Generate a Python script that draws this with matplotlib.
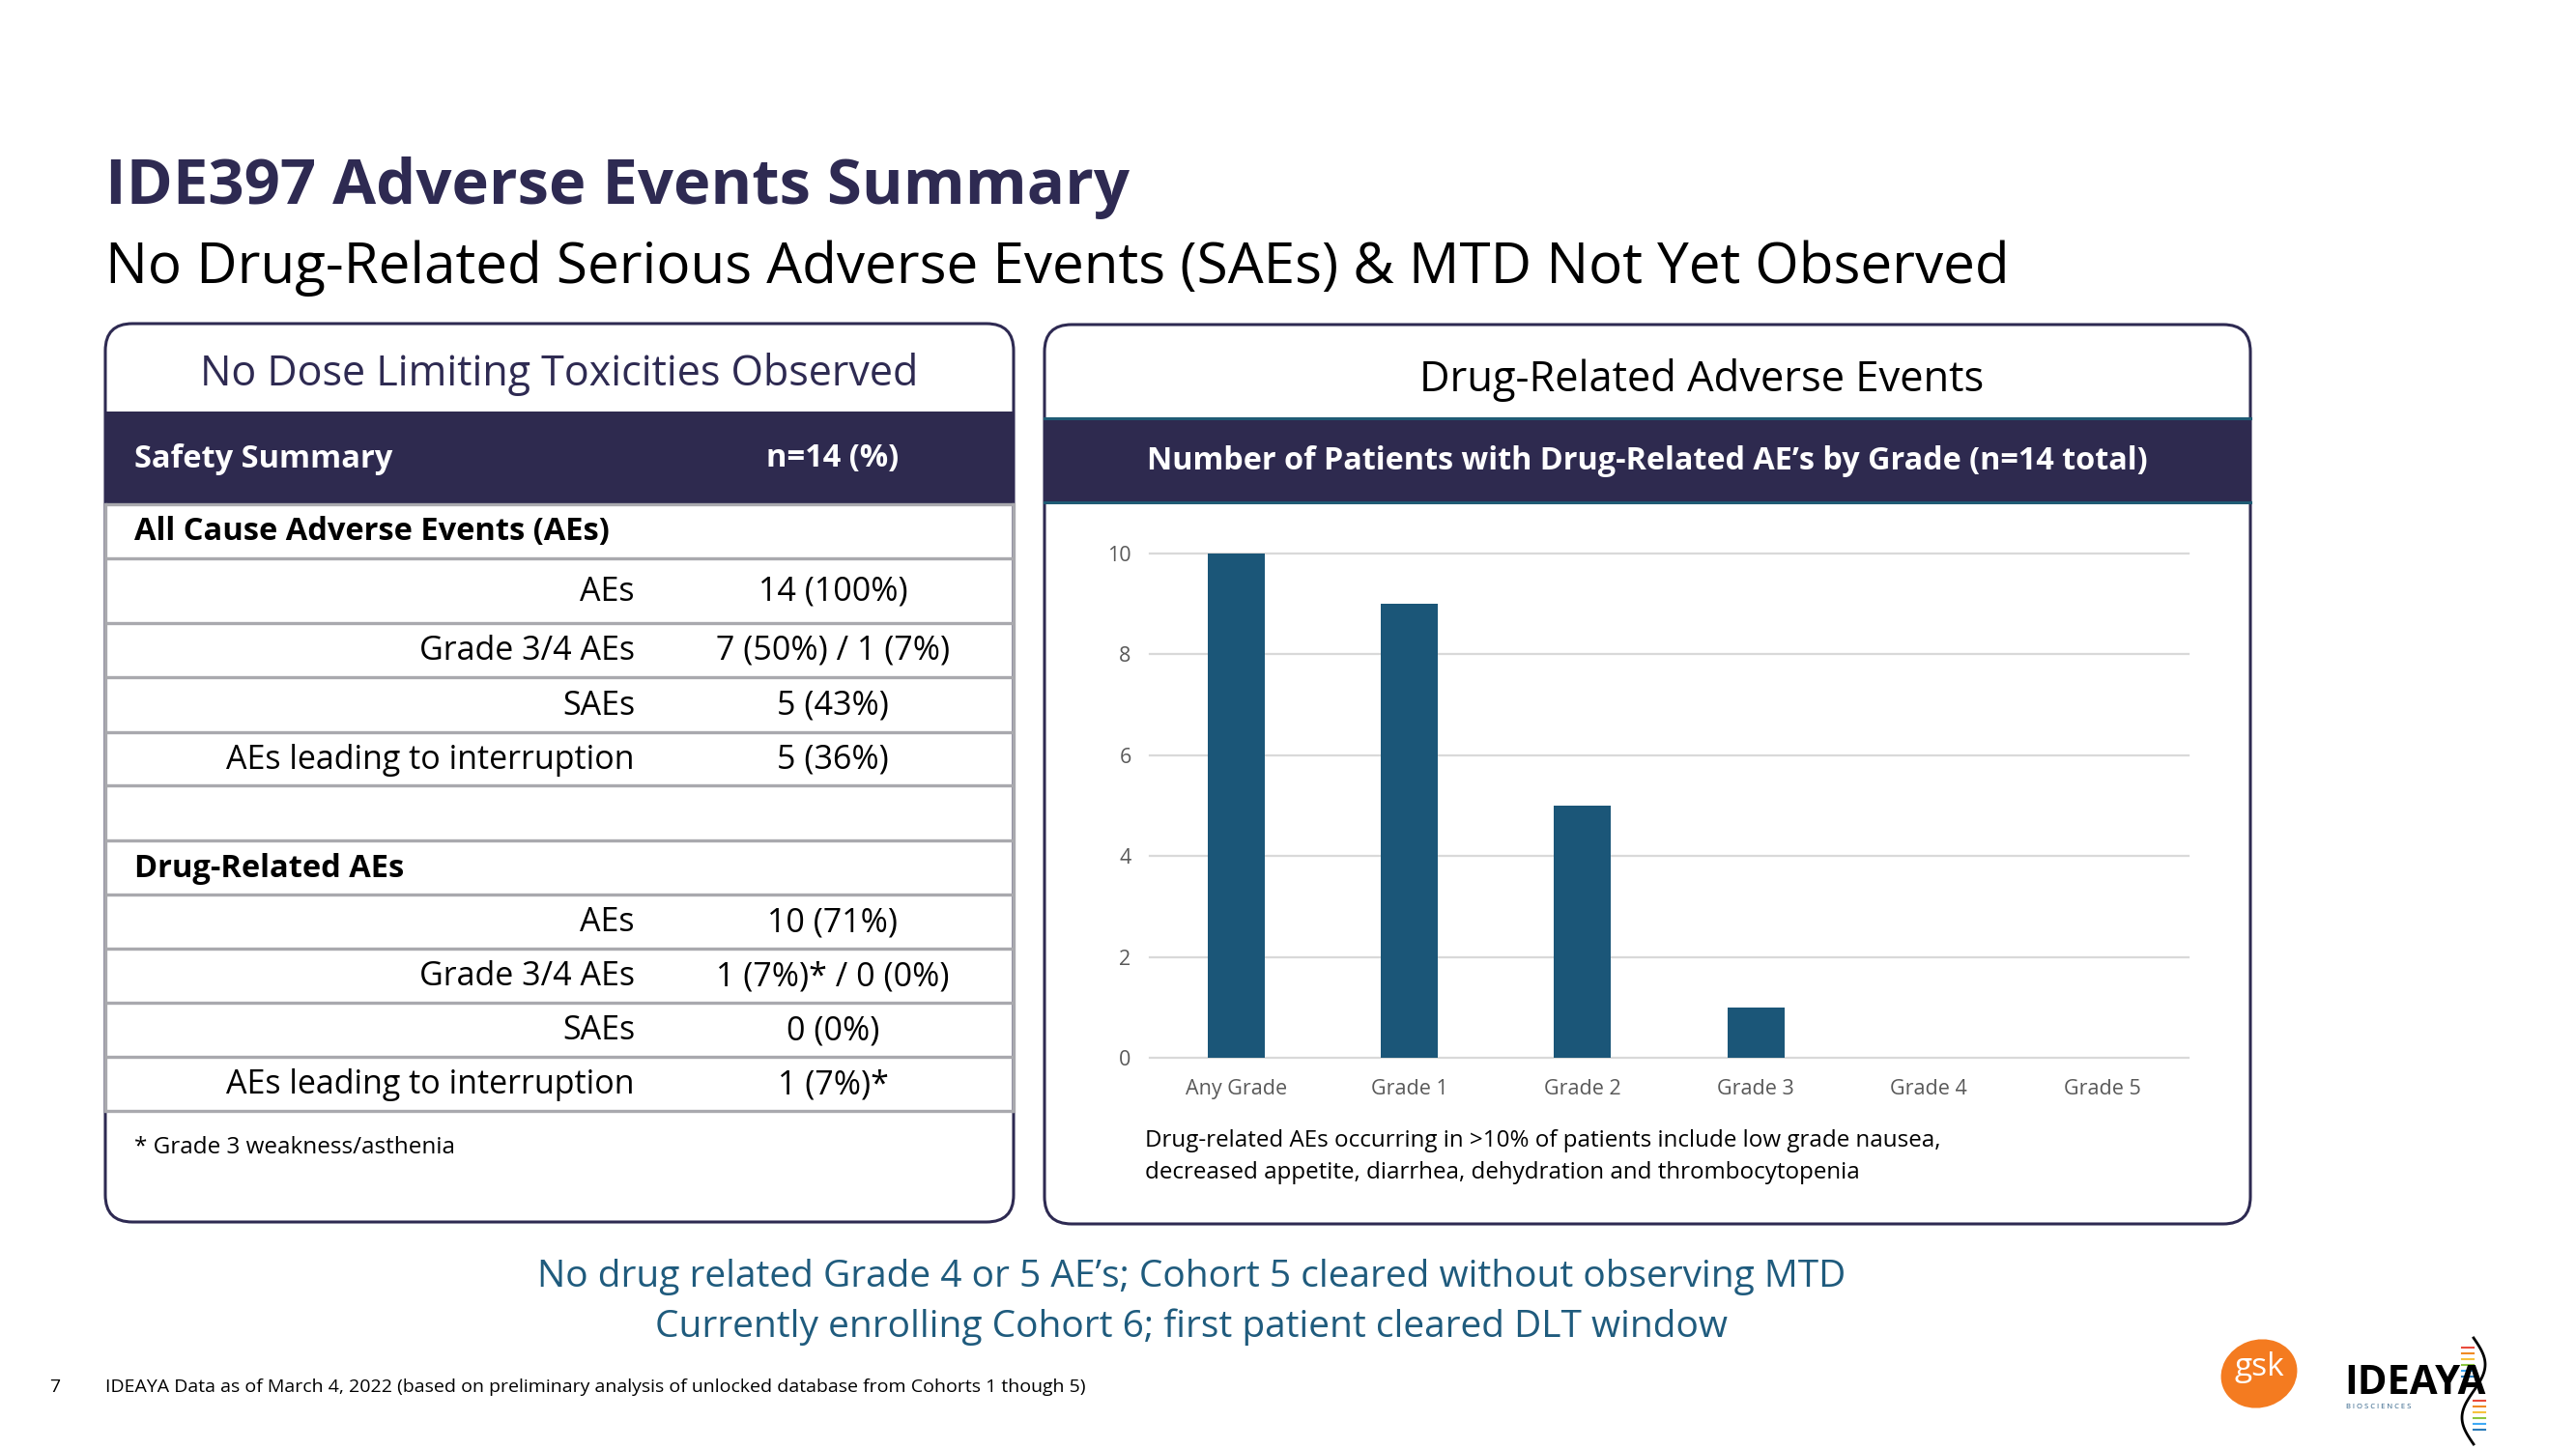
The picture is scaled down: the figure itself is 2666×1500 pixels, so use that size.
import numpy as np
import matplotlib
matplotlib.use("Agg")
import matplotlib.pyplot as plt
from matplotlib.patches import FancyBboxPatch, Rectangle, Ellipse

# ---- data ----
grades = ["Any Grade", "Grade 1", "Grade 2", "Grade 3", "Grade 4", "Grade 5"]
patients = [10, 9, 5, 1, 0, 0]
y_ticks = [0, 2, 4, 6, 8, 10]

all_cause_labels = ["AEs", "Grade 3/4 AEs", "SAEs", "AEs leading to interruption"]
all_cause_values = ["14 (100%)", "7 (50%) / 1 (7%)", "5 (43%)", "5 (36%)"]
drug_labels = ["AEs", "Grade 3/4 AEs", "SAEs", "AEs leading to interruption"]
drug_values = ["10 (71%)", "1 (7%)* / 0 (0%)", "0 (0%)", "1 (7%)*"]

# ---- colours ----
NAVY = "#2E2A52"
BAND = "#2E2A4F"
TEAL = "#1F5B74"
BAR = "#1B5678"
BLUE_TXT = "#1F5B7D"
GRID = "#D9D9D9"
ROWLINE = "#A9A9AE"
TICK = "#595959"

plt.rcParams["font.family"] = ["Open Sans", "DejaVu Sans"]

W, H = 2666, 1500
fig = plt.figure(figsize=(W / 100, H / 100), dpi=100)
fig.patch.set_facecolor("white")

# background axes in pixel coords (y down)
bg = fig.add_axes([0, 0, 1, 1])
bg.set_xlim(0, W)
bg.set_ylim(H, 0)
bg.axis("off")

# ---- titles ----
bg.text(109, 211, "IDE397 Adverse Events Summary", fontsize=47, fontweight="bold",
        color=NAVY, ha="left", va="baseline")
bg.text(109, 293, "No Drug-Related Serious Adverse Events (SAEs) & MTD Not Yet Observed",
        fontsize=42, color="black", ha="left", va="baseline")

# ---- left panel (table) ----
lx0, lx1, ly0, ly1 = 109, 1049, 335, 1265
bg.add_patch(FancyBboxPatch((lx0, ly0), lx1 - lx0, ly1 - ly0,
                            boxstyle="round,pad=0,rounding_size=28",
                            lw=2.2, edgecolor=NAVY, facecolor="white", zorder=1))
bg.text((lx0 + lx1) / 2, 387, "No Dose Limiting Toxicities Observed", fontsize=31,
        color=NAVY, ha="center", va="center", zorder=5)
bg.add_patch(Rectangle((lx0, 426), lx1 - lx0, 96, facecolor=BAND, edgecolor="none", zorder=3))
bg.text(139, 475, "Safety Summary", fontsize=23.5, fontweight="bold", color="white",
        ha="left", va="center", zorder=5)
bg.text(862, 475, "n=14 (%)", fontsize=23.5, fontweight="bold", color="white",
        ha="center", va="center", zorder=5)

row_edges = [522, 578, 645, 701, 758, 813, 870, 926, 982, 1038, 1094, 1150]
for y in row_edges:
    bg.plot([lx0, lx1], [y, y], color=ROWLINE, lw=2.4, zorder=4, solid_capstyle="butt")
for x in (lx0, lx1):
    bg.plot([x, x], [522, 1150], color=ROWLINE, lw=2.4, zorder=4)


def row_mid(i):
    return (row_edges[i] + row_edges[i + 1]) / 2 + 1


label_x, value_x = 657, 862
bg.text(139, row_mid(0), "All Cause Adverse Events (AEs)", fontsize=23.5, fontweight="bold",
        color="black", ha="left", va="center", zorder=5)
for i, (lab, val) in enumerate(zip(all_cause_labels, all_cause_values)):
    bg.text(label_x, row_mid(1 + i), lab, fontsize=24.5, ha="right", va="center", zorder=5)
    bg.text(value_x, row_mid(1 + i), val, fontsize=24.5, ha="center", va="center", zorder=5)
bg.text(139, row_mid(6), "Drug-Related AEs", fontsize=23.5, fontweight="bold",
        color="black", ha="left", va="center", zorder=5)
for i, (lab, val) in enumerate(zip(drug_labels, drug_values)):
    bg.text(label_x, row_mid(7 + i), lab, fontsize=24.5, ha="right", va="center", zorder=5)
    bg.text(value_x, row_mid(7 + i), val, fontsize=24.5, ha="center", va="center", zorder=5)

bg.text(139, 1188, "* Grade 3 weakness/asthenia", fontsize=17.5, ha="left", va="center", zorder=5)

# ---- right panel (chart) ----
rx0, rx1, ry0, ry1 = 1081, 2329, 336, 1267
bg.add_patch(FancyBboxPatch((rx0, ry0), rx1 - rx0, ry1 - ry0,
                            boxstyle="round,pad=0,rounding_size=28",
                            lw=2.2, edgecolor=NAVY, facecolor="white", zorder=1))
bg.text(1761, 394, "Drug-Related Adverse Events", fontsize=31.3,
        color="black", ha="center", va="center", zorder=5)
bg.add_patch(Rectangle((rx0, 433), rx1 - rx0, 87, facecolor=BAND, edgecolor="none", zorder=3))
for y in (433, 520):
    bg.plot([rx0, rx1], [y, y], color=TEAL, lw=2.2, zorder=4)
bg.text((rx0 + rx1) / 2, 477,
        "Number of Patients with Drug-Related AE\u2019s by Grade (n=14 total)",
        fontsize=23.3, fontweight="bold", color="white", ha="center", va="center", zorder=5)

bg.text(1185, 1181, "Drug-related AEs occurring in >10% of patients include low grade nausea,",
        fontsize=17.4, ha="left", va="center", zorder=5)
bg.text(1185, 1214, "decreased appetite, diarrhea, dehydration and thrombocytopenia",
        fontsize=17.4, ha="left", va="center", zorder=5)

# bar chart axes
ax_l, ax_r, ax_top, ax_bot = 1190, 2265, 573, 1095
ax = fig.add_axes([ax_l / W, 1 - ax_bot / H, (ax_r - ax_l) / W, (ax_bot - ax_top) / H])
ax.set_facecolor("none")
x = np.arange(len(grades))
for v in y_ticks:
    ax.axhline(v, color=GRID, lw=1.6, zorder=0, clip_on=False)
ax.bar(x, patients, width=0.33, color=BAR, zorder=2)
ax.set_xlim(-0.5, len(grades) - 0.5)
ax.set_ylim(0, 10)
ax.set_yticks(y_ticks)
ax.set_xticks(x)
ax.set_xticklabels(grades)
ax.tick_params(axis="both", length=0, labelsize=15.5, labelcolor=TICK)
ax.tick_params(axis="y", pad=14)
ax.tick_params(axis="x", pad=16)
for s in ax.spines.values():
    s.set_visible(False)

# ---- bottom messages ----
bg.text(1233, 1322, "No drug related Grade 4 or 5 AE\u2019s; Cohort 5 cleared without observing MTD",
        fontsize=28, color=BLUE_TXT, ha="center", va="center")
bg.text(1233, 1374, "Currently enrolling Cohort 6; first patient cleared DLT window",
        fontsize=28, color=BLUE_TXT, ha="center", va="center")

# ---- footer ----
bg.text(51, 1436, "7", fontsize=14, ha="left", va="center")
bg.text(109, 1436, "IDEAYA Data as of March 4, 2022 (based on preliminary analysis of unlocked "
        "database from Cohorts 1 though 5)", fontsize=14, ha="left", va="center")

# ---- logos ----
bg.add_patch(Ellipse((2338, 1422), 80, 70, angle=-20, facecolor="#F47B20", edgecolor="none"))
bg.text(2338, 1416, "gsk", fontsize=24, color="white", ha="center", va="center")
bg.text(2426, 1443, "IDEAYA", fontsize=30, fontweight="bold", color="black",
        ha="left", va="baseline")
bg.text(2428, 1456, "B I O S C I E N C E S", fontsize=5.5, color="#2B5D84",
        ha="left", va="center")
ty = np.linspace(1385, 1495, 80)
bg.plot(2560 + 12 * np.sin((ty - 1385) / 110 * 2 * np.pi), ty, color="black", lw=2)
rung_cols = ["#E94B3C", "#F08A24", "#F6C23E", "#8CC63F", "#3FA9F5", "#2B7BB9"]
for i, c in enumerate(rung_cols):
    bg.plot([2548, 2560], [1395 + i * 6, 1395 + i * 6], color=c, lw=1.5)
    bg.plot([2560, 2572], [1450 + i * 6, 1450 + i * 6], color=c, lw=1.5)

fig.savefig("out.png", dpi=100, facecolor="white")
